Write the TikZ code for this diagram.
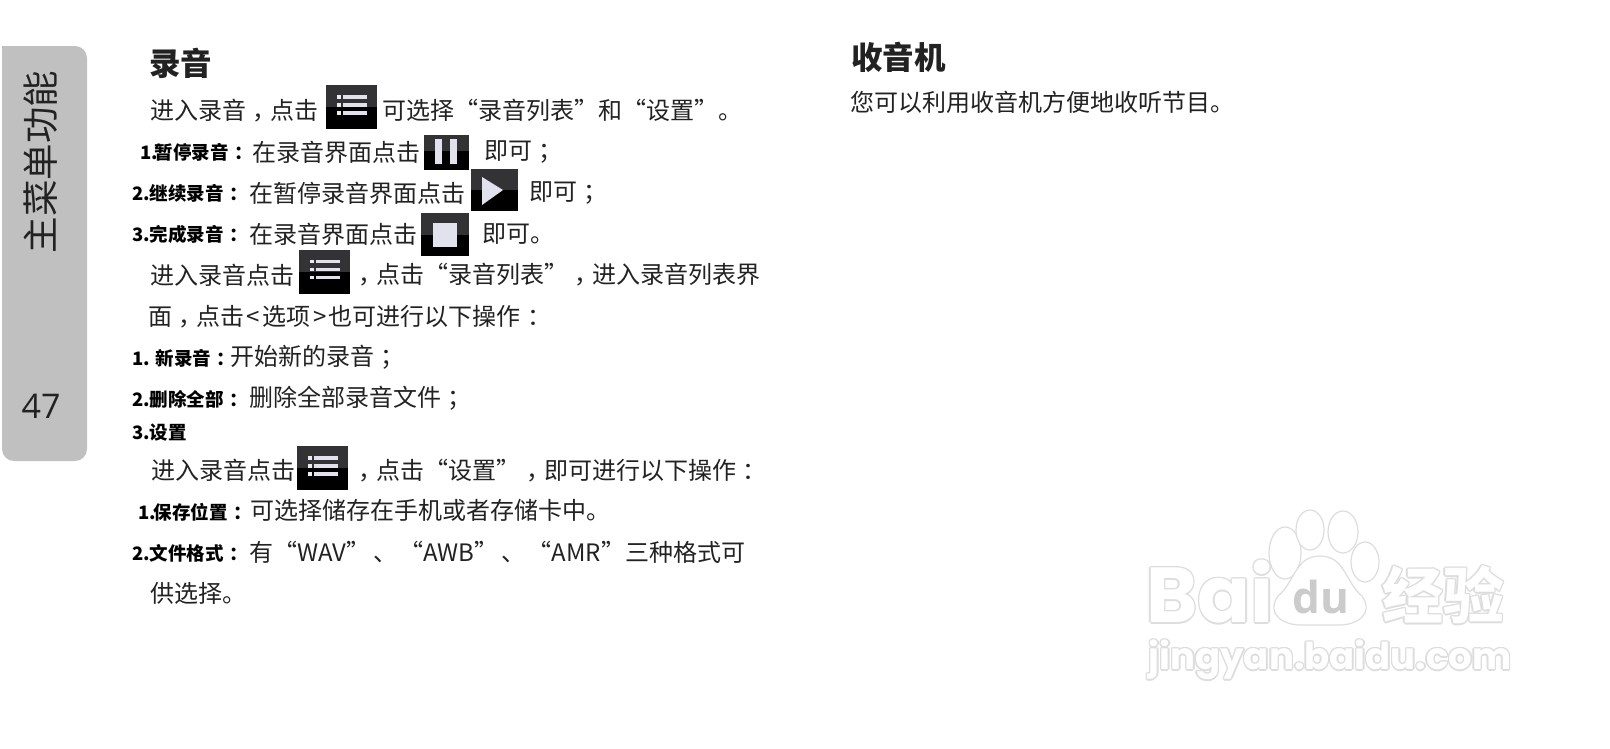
\documentclass[tikz,border=0pt]{standalone}
\usepackage{fontspec}
\setmainfont{Noto Sans CJK SC}
\newfontfamily\latinfont{Open Sans}
\newfontfamily\wmfont{Poppins}
\definecolor{inktext}{HTML}{222222}
\definecolor{tabgray}{HTML}{C0C0C0}
\definecolor{icontop}{HTML}{333336}
\definecolor{iconbar}{HTML}{E2E2EE}
\definecolor{markgray}{HTML}{DDDDDD}
\newcommand{\midp}[1]{\kern.28em#1\kern-.28em}
\tikzset{
	body/.style={anchor=west, inner sep=0pt, text=inktext, font=\fontsize{24}{24}\selectfont},
	lead/.style={anchor=west, inner sep=0pt, text=black, font=\fontsize{18.5}{18.5}\selectfont\bfseries},
	heading/.style={anchor=west, inner sep=0pt, text=inktext, font=\fontsize{31.5}{31.5}\selectfont\bfseries},
	wmark/.style={inner sep=0pt, font=\fontsize{#1}{#1}\selectfont\bfseries},
	paw/.style={draw=markgray, line width=1.2pt, fill=white},
	pics/menuicon/.style={
			code={
					\fill[black] (-25.5,-22) rectangle (25.5,22);
					\fill[icontop] (-25.5,-22) rectangle (25.5,0);
					\foreach \barY in {-10,-2,6} {
							\fill[iconbar] (-8.5,\barY-1.7) rectangle (15,\barY+1.7);
							\fill[iconbar!70] (-15,\barY-1.7) rectangle (-10.5,\barY+1.7);
						}
				}
		},
	pics/pausebtn/.style={
			code={
					\fill[black] (-22.5,-17.5) rectangle (22.5,17.5);
					\fill[icontop] (-22.5,-17.5) rectangle (22.5,-1.5);
					\fill[iconbar] (-11.5,-13.5) rectangle (-4.5,11.5);
					\fill[iconbar] (3.5,-13.5) rectangle (10.5,11.5);
				}
		},
	pics/playbtn/.style={
			code={
					\fill[black] (-23.5,-21) rectangle (23.5,21);
					\fill[icontop] (-23.5,-21) rectangle (23.5,0);
					\fill[iconbar] (-12.5,-13) -- (8.5,0) -- (-12.5,15) -- cycle;
				}
		},
	pics/stopbtn/.style={
			code={
					\fill[black] (-24,-21.5) rectangle (24,21.5);
					\fill[icontop] (-24,-21.5) rectangle (24,0.5);
					\fill[iconbar] (-12,-11.5) rectangle (12,12.5);
				}
		}
}

\begin{document}
\begin{tikzpicture}[x=1pt,y=-1pt]

	\useasboundingbox (0,0) rectangle (1610,748);
	\fill[white] (0,0) rectangle (1610,748);

	% Side tab
	\fill[tabgray] (2,46) [rounded corners=12pt] -- (87,46) -- (87,461) -- (2,461) [sharp corners] -- cycle;
	\node[rotate=90, inner sep=0pt, text=inktext, font=\fontsize{36.5}{36.5}\selectfont] (tabtitle) at (41,162) {主菜单功能};
	\node[inner sep=0pt, text=inktext, font=\fontsize{34}{34}\selectfont\latinfont] (tabpage) at (41,406) {47};

	% Left column
	\node[heading] (recTitle) at (149,63) {录音};

	\node[body] (introA) at (150,110.5) {进入录音\midp{，}点击};
	\pic at (351.5,107) {menuicon};
	\node[body] (introB) at (382,110.5) {可选择“录音列表”和“设置”。};

	\node[lead] (pauseLabel) at (140,152) {1.\kern-3pt 暂停录音\midp{：}};
	\node[body] (pauseText) at (252,152) {在录音界面点击};
	\pic at (446.5,152.5) {pausebtn};
	\node[body] (pauseEnd) at (484,152) {即可\midp{；}};

	\node[lead] (resumeLabel) at (132,193) {2.继续录音\midp{：}};
	\node[body] (resumeText) at (249,193) {在暂停录音界面点击};
	\pic at (494.5,190) {playbtn};
	\node[body] (resumeEnd) at (529,193) {即可\midp{；}};

	\node[lead] (stopLabel) at (132,234) {3.完成录音\midp{：}};
	\node[body] (stopText) at (249,234) {在录音界面点击};
	\pic at (445,234.5) {stopbtn};
	\node[body] (stopEnd) at (482,234) {即可。};

	\node[body] (listA) at (150,275) {进入录音点击};
	\pic at (324.5,271.5) {menuicon};
	\node[body] (listB) at (352,275) {\midp{，}点击“录音列表”\midp{，}进入录音列表界};
	\node[body] (listC) at (148,316.5) {面\midp{，}点击\kern2.5pt<\kern2.5pt选项\kern2.5pt>\kern2.5pt也可进行以下操作\midp{：}};

	\node[lead] (newLabel) at (132,358) {1. 新录音\midp{：}};
	\node[body] (newText) at (230,357.5) {开始新的录音\midp{；}};
	\node[lead] (delLabel) at (132,399.5) {2.删除全部\midp{：}};
	\node[body] (delText) at (249,398.5) {删除全部录音文件\midp{；}};
	\node[lead] (setLabel) at (132,433) {3.设置};

	\node[body] (setA) at (151,470.5) {进入录音点击};
	\pic at (322.5,468) {menuicon};
	\node[body] (setB) at (352,470.5) {\midp{，}点击“设置”\midp{，}即可进行以下操作\midp{：}};

	\node[lead] (saveLabel) at (138,512) {1.\kern-2pt 保存位置\midp{：}};
	\node[body] (saveText) at (250,510.5) {可选择储存在手机或者存储卡中。};
	\node[lead] (fmtLabel) at (132,553) {2.文件格式\midp{：}};
	\node[body] (fmtText) at (249,552) {有“WAV”\kern3pt、\kern2pt“AWB”\kern3pt、\kern2pt“AMR”三种格式可};
	\node[body] (fmtEnd) at (150,593) {供选择。};

	% Right column
	\node[heading] (radioTitle) at (851,57) {收音机};
	\node[body] (radioText) at (850,102) {您可以利用收音机方便地收听节目。};

	% Watermark
	\foreach \dx/\dy in {-1.5/0,1.5/0,0/-1.5,0/1.5,-1/-1,1/1,-1/1,1/-1} {
			\node[wmark=78, text=markgray, anchor=west] (baiS) at (1146+\dx,592+\dy) {\wmfont Bai};
			\node[wmark=37, text=markgray] (jingS) at (1330+\dx,660+\dy) {\wmfont jingyan.baidu.com};
			\node[wmark=61, text=markgray, anchor=west] (jingyanS) at (1382+\dx,595+\dy) {经验};
		}
	\node[wmark=78, text=white, anchor=west] (bai) at (1146,592) {\wmfont Bai};
	\node[wmark=37, text=white] (jingyan) at (1330,660) {\wmfont jingyan.baidu.com};
	\node[wmark=61, text=white, anchor=west] (jingyanCn) at (1382,595) {经验};

	\draw[paw] (1285,553) ellipse (16 and 26);
	\draw[paw] (1310,530) ellipse (14 and 20);
	\draw[paw] (1343,532) ellipse (15 and 21);
	\draw[paw] (1365,562) ellipse (14 and 20);
	\draw[paw] (1320,556) .. controls (1345,556) and (1345,582) .. (1362,596) .. controls (1375,615) and (1355,625) .. (1340,625) -- (1300,625) .. controls (1285,625) and (1265,615) .. (1278,596) .. controls (1295,582) and (1295,556) .. (1320,556) -- cycle;
	\node[wmark=44, text=markgray!92!black] (du) at (1321,597) {\latinfont du};

\end{tikzpicture}
\end{document}
